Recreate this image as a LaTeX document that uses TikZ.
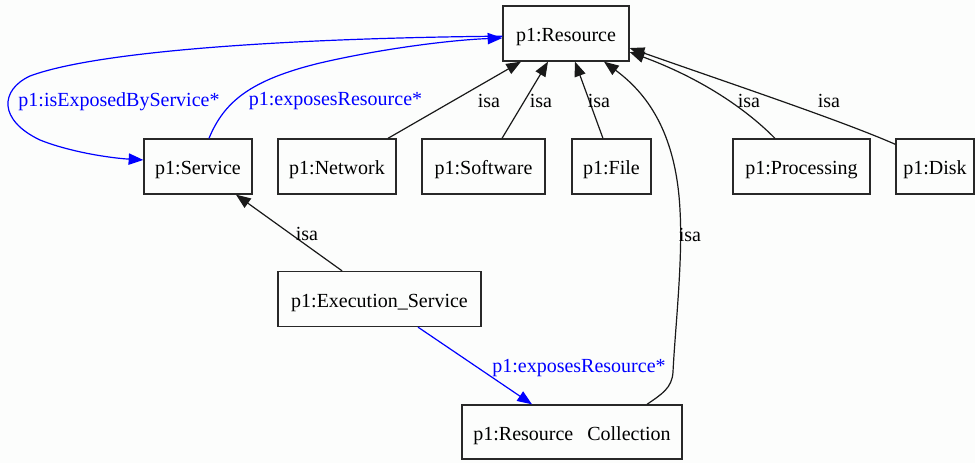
\documentclass[tikz,border=0pt]{standalone}
\usepackage{fontspec}
\setmainfont{Liberation Serif}
\usetikzlibrary{arrows.meta}
\definecolor{bgc}{RGB}{252,253,252}
\definecolor{edgeblue}{RGB}{0,0,255}
\definecolor{boxline}{RGB}{40,40,40}
\begin{document}
\begin{tikzpicture}[x=0.75pt,y=-0.75pt,
  cls/.style={draw=boxline, line width=1pt, minimum height=41.25pt, inner sep=0pt, text height=13.2pt, text depth=0.6pt, font=\fontsize{15}{18}\selectfont},
  lbl/.style={inner sep=0pt, font=\fontsize{15}{18}\selectfont},
  bluelbl/.style={lbl, text=edgeblue},
  isaedge/.style={draw=black!90, line width=0.9pt, -{Triangle[length=11pt,width=8.5pt]}},
  reledge/.style={draw=edgeblue, line width=0.9pt, -{Triangle[length=11pt,width=8.5pt]}}
]
\fill[bgc] (0,0) rectangle (975,463);
\useasboundingbox (0,0) rectangle (975,463);

% classes
\node[cls, minimum width=94.5pt]  (res)  at (566,33.5)  {p1:Resource};
\node[cls, minimum width=81pt]    (svc)  at (198,166.5) {p1:Service};
\node[cls, minimum width=88.5pt]  (net)  at (337,166.5) {p1:Network};
\node[cls, minimum width=92.25pt] (soft) at (483.5,166.5) {p1:Software};
\node[cls, minimum width=59.25pt] (file) at (611.5,166.5) {p1:File};
\node[cls, minimum width=102.75pt](proc) at (801.5,166.5) {p1:Processing};
\node[cls, minimum width=58.5pt]  (disk) at (935,166.5) {p1:Disk};
\node[cls, minimum width=152.25pt](exec) at (379.5,299) {p1:Execution\_Service};
\node[cls, minimum width=165pt, minimum height=40.5pt] (rc) at (572,432) {p1:Resource\hspace{0.7em}Collection};

% blue relations between Service and Resource
\draw[reledge] ([xshift=8.25pt]svc.north) .. controls (224,102) and (250,80) .. (320,63)
  .. controls (380,49) and (450,40) .. ([yshift=-3.4pt]res.west);
\draw[reledge] ([yshift=-2pt]res.west) .. controls (300,38) and (100,50) .. (30,76)
  .. controls (0,90) and (-2,120) .. (40,140)
  .. controls (70,152) and (110,158) .. ([yshift=4.9pt]svc.west);
\node[bluelbl] (lisexp) at (119,102) {p1:isExposedByService*};
\node[bluelbl] (lexp1)  at (335.5,101) {p1:exposesResource*};

% isa edges to Resource
\draw[isaedge] ([xshift=38.25pt]net.north) -- ([xshift=-33.75pt]res.south);
\node[lbl] (lisa1) at (489,101) {isa};
\draw[isaedge] ([xshift=13.9pt]soft.north) -- ([xshift=-13.5pt]res.south);
\node[lbl] (lisa2) at (541,101) {isa};
\draw[isaedge] ([xshift=-6.4pt]file.north) -- ([xshift=6.75pt]res.south);
\node[lbl] (lisa3) at (599,101) {isa};
\draw[isaedge] ([xshift=-19.9pt]proc.north) .. controls (745,108) and (700,78) .. ([yshift=-13.9pt]res.east);
\node[lbl] (lisa4) at (749,101) {isa};
\draw[isaedge] ([yshift=-4.5pt]disk.north west) .. controls (840,120) and (720,80) .. ([yshift=-10.9pt]res.east);
\node[lbl] (lisa5) at (829,101) {isa};
\draw[isaedge] ([xshift=56.25pt]rc.north) .. controls (662,394) and (672,388) .. (673,372)
  .. controls (675,330) and (683,260) .. (680,210)
  .. controls (676,130) and (645,92) .. ([xshift=28.5pt]res.south);
\node[lbl] (lisa6) at (690,235) {isa};

% Execution_Service
\draw[isaedge] ([xshift=-28.1pt]exec.north) -- ([xshift=28.5pt]svc.south);
\node[lbl] (lisa7) at (307,234) {isa};
\draw[reledge] ([xshift=28.9pt]exec.south) -- ([xshift=-30pt]rc.north);
\node[bluelbl] (lexp2) at (579,368) {p1:exposesResource*};
\end{tikzpicture}
\end{document}
